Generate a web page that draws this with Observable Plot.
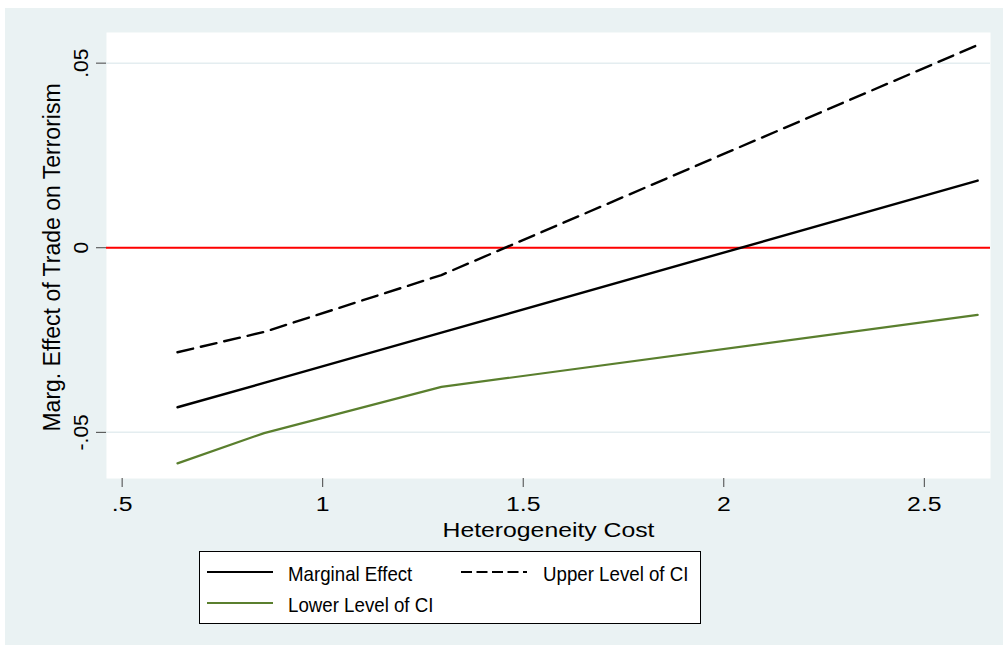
<!DOCTYPE html>
<html>
<head>
<meta charset="utf-8">
<script src="https://cdn.jsdelivr.net/npm/d3@7"></script>
<script src="https://cdn.jsdelivr.net/npm/@observablehq/plot@0.6"></script>
<style>
  html, body { margin: 0; padding: 0; background: #ffffff; }
  #graph { position: absolute; left: 5px; top: 8px; width: 998px; height: 637px; background: #eaf2f3; overflow: hidden; }
  #graph > svg { position: absolute; left: 0; top: 0; }
  .legend { position: absolute; left: 194px; top: 543px; width: 500px; height: 71px; background: #ffffff; border: 1px solid #000000; }
  .legend svg { position: absolute; overflow: visible; }
  .legend span { position: absolute; font: 21px "Liberation Sans", Arial, sans-serif; line-height: 21px; white-space: nowrap;
                 color: #000; transform: scaleX(0.89); transform-origin: 0 50%; }
</style>
</head>
<body>
<div id="graph"></div>
<script>
// Marginal effect of trade on terrorism across heterogeneity cost, with CI bounds
const heterogeneityCost = [0.638, 0.854, 1.296, 2.633];
const marginalEffect    = [-0.0432, -0.0366, -0.0230, 0.0182];
const upperCI           = [-0.0283, -0.0228, -0.0074, 0.0549];
const lowerCI           = [-0.0584, -0.0502, -0.0377, -0.0182];
const seriesNames = ["Marginal Effect", "Upper Level of CI", "Lower Level of CI"];

const xTicks = [0.5, 1, 1.5, 2, 2.5];
const xTickLabels = [".5", "1", "1.5", "2", "2.5"];
const yTicks = [-0.05, 0, 0.05];
const yTickLabels = ["-.05", "0", ".05"];
const xDomain = [0.461, 2.665];
const yDomain = [-0.0625, 0.0583];
const xTitle = "Heterogeneity Cost";
const yTitle = "Marg. Effect of Trade on Terrorism";

const toRows = (values, name) => heterogeneityCost.map((x, i) => ({x, y: values[i], series: name}));
const marginalRows = toRows(marginalEffect, seriesNames[0]);
const upperRows = toRows(upperCI, seriesNames[1]);
const lowerRows = toRows(lowerCI, seriesNames[2]);

const GREEN = "#5a7f2e";
const DASH = "16,8";

const chart = Plot.plot({
  width: 998,
  height: 540,
  marginLeft: 101,
  marginRight: 13,
  marginTop: 24,
  marginBottom: 70,
  style: { fontFamily: '"Liberation Sans", Arial, sans-serif', fontSize: "21px", background: "transparent", color: "#000", overflow: "visible" },
  x: { domain: xDomain, nice: false },
  y: { domain: yDomain, nice: false },
  marks: [
    Plot.frame({ fill: "#ffffff", stroke: "none" }),
    Plot.gridY(yTicks, { stroke: "#e4edf0", strokeOpacity: 1, strokeWidth: 1.5 }),
    Plot.ruleY([0], { stroke: "#ff0000", strokeWidth: 2 }),
    Plot.line(lowerRows, { x: "x", y: "y", stroke: GREEN, strokeWidth: 2.2 }),
    Plot.line(marginalRows, { x: "x", y: "y", stroke: "#000", strokeWidth: 2.4 }),
    Plot.line(upperRows, { x: "x", y: "y", stroke: "#000", strokeWidth: 2.4, strokeDasharray: DASH }),
    Plot.axisX({
      ticks: xTicks, tickFormat: d => xTickLabels[xTicks.indexOf(d)],
      tickSize: 9, tickPadding: 9, line: true, label: null, stroke: "#444", fill: "#000"
    }),
    Plot.axisY({
      ticks: yTicks, tickFormat: d => yTickLabels[yTicks.indexOf(d)],
      tickRotate: -90, textAnchor: "middle", lineAnchor: "bottom",
      tickSize: 10, tickPadding: 9, line: true, label: null, stroke: "#444", fill: "#000"
    }),
    Plot.text([xTitle], { text: d => d, frameAnchor: "bottom", dy: 58, lineAnchor: "bottom", textAnchor: "middle", fill: "#000" }),
    Plot.text([yTitle], { text: d => d, frameAnchor: "left", rotate: -90, dx: -47, dy: 2, lineAnchor: "bottom", textAnchor: "middle",
                          fontSize: 23, fill: "#000" })
  ]
});

// horizontal labels are set a little wider than the font's natural width
const STRETCH = 1.18;
chart.querySelectorAll("text").forEach(t => {
  let tr = t.getAttribute("transform");
  if (tr && tr.includes("rotate")) return;
  if (!tr) {
    const x = parseFloat(t.getAttribute("x")) || 0;
    tr = `translate(${x},0)`;
    t.removeAttribute("x");
  }
  t.setAttribute("transform", tr + ` scale(${STRETCH},1)`);
});

const graph = document.getElementById("graph");
graph.appendChild(chart);

// legend box below the plot
const legend = d3.select(graph).append("div").attr("class", "legend");
const keys = [
  { name: seriesNames[0], left: 7, top: 20, textLeft: 88, textTop: 11, stroke: "#000", dash: null },
  { name: seriesNames[1], left: 261, top: 20, textLeft: 343, textTop: 11, stroke: "#000", dash: "11,4.5" },
  { name: seriesNames[2], left: 7, top: 51, textLeft: 88, textTop: 42, stroke: GREEN, dash: null }
];
for (const k of keys) {
  const s = legend.append("svg").attr("width", 66).attr("height", 2)
    .style("left", k.left + "px").style("top", (k.top - 1) + "px");
  s.append("line").attr("x1", 0).attr("x2", 66).attr("y1", 1).attr("y2", 1)
    .attr("stroke", k.stroke).attr("stroke-width", 2).attr("stroke-dasharray", k.dash);
  legend.append("span").text(k.name).style("left", k.textLeft + "px").style("top", k.textTop + "px");
}
</script>
</body>
</html>
